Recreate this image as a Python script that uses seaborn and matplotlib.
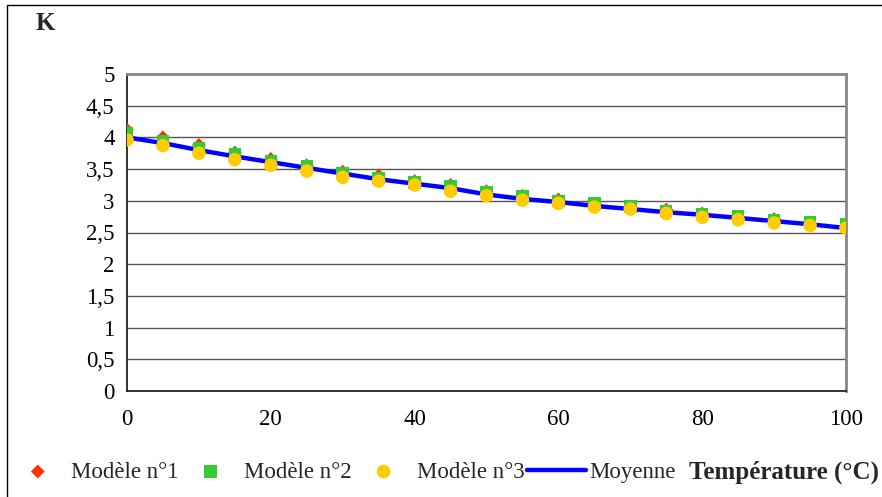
import matplotlib
matplotlib.use("Agg")
import matplotlib.pyplot as plt
import matplotlib.patches as mpatches
from matplotlib.ticker import FuncFormatter, MultipleLocator
import pandas as pd
import seaborn as sns

# Données
temperature = [0, 5, 10, 15, 20, 25, 30, 35, 40, 45, 50, 55, 60, 65, 70, 75, 80, 85, 90, 95, 100]
modele_1 = [4.12, 4.00, 3.88, 3.76, 3.66, 3.56, 3.46, 3.40, 3.31, 3.25, 3.15,
            3.08, 3.02, 2.96, 2.89, 2.86, 2.80, 2.75, 2.71, 2.64, 2.59]
modele_2 = [4.06, 3.94, 3.83, 3.73, 3.63, 3.54, 3.44, 3.36, 3.29, 3.23, 3.14,
            3.08, 3.00, 2.96, 2.91, 2.84, 2.79, 2.75, 2.70, 2.66, 2.63]
modele_3 = [3.96, 3.87, 3.75, 3.65, 3.56, 3.47, 3.37, 3.31, 3.25, 3.15, 3.08,
            3.01, 2.96, 2.90, 2.87, 2.80, 2.74, 2.70, 2.65, 2.61, 2.57]
moyenne = [4.00, 3.91, 3.80, 3.70, 3.61, 3.52, 3.43, 3.34, 3.27, 3.20, 3.10,
           3.03, 2.98, 2.92, 2.87, 2.82, 2.78, 2.73, 2.68, 2.63, 2.57]

df = pd.DataFrame({'T': temperature, 'M1': modele_1, 'M2': modele_2,
                   'M3': modele_3, 'Moy': moyenne})

sns.set_style('white')
plt.rcParams['font.family'] = ['Liberation Serif', 'DejaVu Serif']

fig = plt.figure(figsize=(8.82, 4.97), dpi=100)
ax = fig.add_axes([127 / 882, 1 - 391 / 497, (846 - 127) / 882, (391 - 74) / 497])

# Grille horizontale
for v in [0.5, 1, 1.5, 2, 2.5, 3, 3.5, 4, 4.5]:
    ax.axhline(v, color='#555555', lw=1.0, zorder=0)

sns.lineplot(data=df, x='T', y='Moy', color='#0000FF', lw=3.2, ax=ax,
             label='Moyenne', zorder=2)
sns.scatterplot(data=df, x='T', y='M1', marker='D', color='#FF3300', s=50,
                edgecolor='none', ax=ax, label='Modèle n°1', zorder=3)
sns.scatterplot(data=df, x='T', y='M2', marker='s', color='#33CC33', s=80,
                edgecolor='none', ax=ax, label='Modèle n°2', zorder=4)
sns.scatterplot(data=df, x='T', y='M3', marker='o', color='#FFCC00', s=95,
                edgecolor='none', ax=ax, label='Modèle n°3', zorder=5)

ax.set_xlim(0, 100)
ax.set_ylim(0, 5)
ax.xaxis.set_major_locator(MultipleLocator(20))
ax.yaxis.set_major_locator(MultipleLocator(0.5))
ax.yaxis.set_major_formatter(FuncFormatter(lambda v, p: f'{v:g}'.replace('.', ',')))
ax.tick_params(axis='both', direction='out', length=6, width=1, color='#222222',
               labelsize=16.5, labelcolor='black')
ax.tick_params(axis='x', pad=7)
ax.tick_params(axis='y', pad=3)

for side in ['left', 'bottom']:
    ax.spines[side].set_color('#222222')
    ax.spines[side].set_linewidth(1.3)
for side in ['top', 'right']:
    ax.spines[side].set_color('#888888')
    ax.spines[side].set_linewidth(2)

ax.set_ylabel('')
ax.set_xlabel('Température (°C)', fontsize=18, fontweight='bold')
ax.xaxis.set_label_coords((879 - 127) / 719, -(472 - 391) / 317)
ax.xaxis.label.set_horizontalalignment('right')
ax.xaxis.label.set_verticalalignment('center')

fig.text(36 / 882, 1 - 24 / 497, 'K', fontsize=18, fontweight='bold', va='center')

# Légende en bas, dans l'ordre des modèles
h, l = ax.get_legend_handles_labels()
order = ['Modèle n°1', 'Modèle n°2', 'Modèle n°3', 'Moyenne']
hh = [h[l.index(o)] for o in order]
ax.legend_.remove()
fig.legend(hh, order, loc='center left', bbox_to_anchor=(8 / 882, 1 - 472 / 497),
           ncol=4, frameon=False, fontsize=16.5, handlelength=2.6,
           handletextpad=0.15, columnspacing=0.1, borderaxespad=0, borderpad=0)

# Cadre extérieur
fig.patches.append(mpatches.Rectangle((7 / 882, -0.1), 1.2, 1.1 - 5 / 497,
                                      transform=fig.transFigure, fill=False,
                                      edgecolor='black', lw=1))

fig.savefig('out.png', dpi=100)
